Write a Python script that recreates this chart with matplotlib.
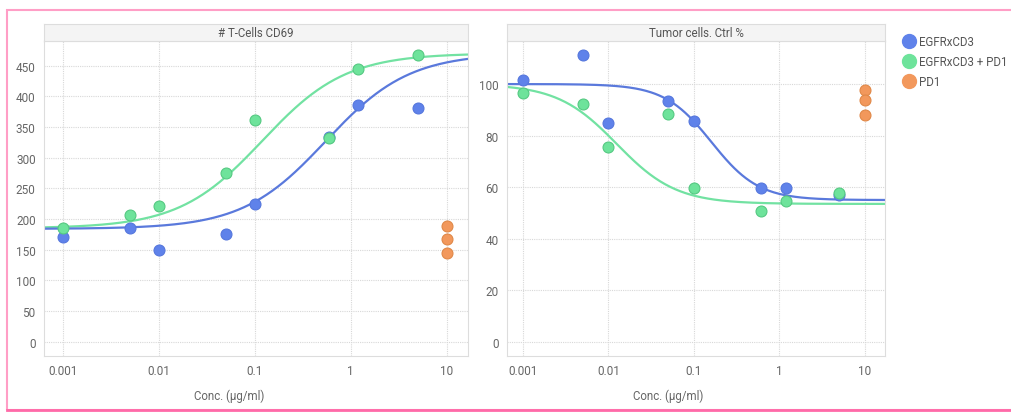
"""
Dose-response panels: T-cell CD69 count and tumor cell % of control.
Output: out.png
"""

import numpy as np
import matplotlib.pyplot as plt
from matplotlib.lines import Line2D
from matplotlib.patches import Rectangle

plt.rcParams["font.family"] = ["Roboto", "DejaVu Sans"]

W, H = 1011, 414

# concentrations (ug/ml)
conc = [0.001, 0.005, 0.01, 0.05, 0.1, 0.6, 1.2, 5]
pd1_conc = [10, 10, 10]

# left panel: # T-Cells CD69
cd69_egfr = [170, 185, 149, 175, 225, 333, 385, 381]
cd69_combo = [186, 206, 222, 275, 361, 332, 445, 467]
cd69_pd1 = [188, 167, 145]

# right panel: Tumor cells, Ctrl %
tumor_egfr = [101.7, 111.4, 84.9, 93.3, 85.5, 59.5, 59.8, 56.9]
tumor_combo = [96.4, 92.1, 75.7, 88.4, 59.8, 50.8, 54.5, 57.6]
tumor_pd1 = [97.5, 93.7, 87.9]

# 4PL fit parameters (low-dose level, high-dose level, ec50, hill)
cd69_fit_egfr = (184, 470, 0.55, 1.0)
cd69_fit_combo = (185, 470, 0.12, 1.0)
tumor_fit_egfr = (100, 55, 0.16, 1.575)
tumor_fit_combo = (100, 53.5, 0.0125, 1.25)

series_names = ["EGFRxCD3", "EGFRxCD3 + PD1", "PD1"]
BLUE, GREEN, ORANGE = "#5f82ea", "#6ee39b", "#f2985c"
BLUE_LINE, GREEN_LINE = "#5a79dc", "#72e2a2"
TEXT = "#666666"


def four_pl(x, low, high, ec50, hill):
    return low + (high - low) / (1 + (ec50 / x) ** hill)


def px_axes(fig, x0, y0, x1, y1, **kw):
    return fig.add_axes([x0 / W, (H - y1) / H, (x1 - x0) / W, (y1 - y0) / H], **kw)


def draw_panel(fig, box, title, xlim, ylim, yticks, data, fits):
    x0, y0, x1, y1 = box
    ax = px_axes(fig, x0, y0, x1, y1)
    strip = px_axes(fig, x0, y0 - 17, x1, y0)
    strip.set_facecolor("#f4f4f4")
    strip.set_xticks([])
    strip.set_yticks([])
    for s in strip.spines.values():
        s.set_color("#dddddd")
    strip.text(0.5, 0.5, title, ha="center", va="center", fontsize=8.3, color="#555555",
               transform=strip.transAxes)

    ax.set_xscale("log")
    ax.set_xlim(*xlim)
    ax.set_ylim(*ylim)
    ax.set_yticks(yticks)
    ax.set_xticks([0.001, 0.01, 0.1, 1, 10])
    ax.set_xticklabels(["0.001", "0.01", "0.1", "1", "10"])
    ax.minorticks_off()
    ax.tick_params(length=0, labelsize=8.5, colors=TEXT, pad=6)
    ax.grid(True, color="#d8d8d8", linestyle=(0, (1, 1)), linewidth=0.8)
    ax.set_axisbelow(True)
    for s in ax.spines.values():
        s.set_color("#dddddd")

    xs = np.logspace(np.log10(xlim[0]), np.log10(xlim[1]), 300)
    egfr, combo, pd1 = data
    ax.plot(xs, four_pl(xs, *fits[1]), color=GREEN_LINE, lw=1.6, zorder=2)
    ax.plot(xs, four_pl(xs, *fits[0]), color=BLUE_LINE, lw=1.6, zorder=2)
    ax.scatter(conc, egfr, s=62, color=BLUE, edgecolor="#5577dd", lw=0.8, zorder=3)
    ax.scatter(conc, combo, s=62, color=GREEN, edgecolor="#55c982", lw=0.8, zorder=4)
    ax.scatter(pd1_conc, pd1, s=62, color=ORANGE, edgecolor="#e08848", lw=0.8, zorder=3)
    return ax


fig = plt.figure(figsize=(W / 100, H / 100), dpi=100)

draw_panel(fig, (44, 42, 468, 357), "# T-Cells CD69",
           (10 ** -3.195, 10 ** 1.222), (-23, 490), range(0, 451, 50),
           (cd69_egfr, cd69_combo, cd69_pd1), (cd69_fit_egfr, cd69_fit_combo))
draw_panel(fig, (507, 42, 885, 357), "Tumor cells. Ctrl %",
           (10 ** -3.187, 10 ** 1.234), (-5.5, 116.7), range(0, 101, 20),
           (tumor_egfr, tumor_combo, tumor_pd1), (tumor_fit_egfr, tumor_fit_combo))

fig.text(229 / W, 1 - 396 / H, "Conc. (μg/ml)", ha="center", va="center", fontsize=8.3, color=TEXT)
fig.text(668 / W, 1 - 396 / H, "Conc. (μg/ml)", ha="center", va="center", fontsize=8.3, color=TEXT)

handles = [Line2D([], [], marker="o", ls="", ms=10, color=c, markeredgecolor=c)
           for c in (BLUE, GREEN, ORANGE)]
fig.legend(handles, series_names, loc="upper left", bbox_to_anchor=(896 / W, 1 - 30 / H),
           frameon=False, fontsize=8.3, labelcolor="#555555", handletextpad=0.3,
           labelspacing=0.62, handlelength=1.2, borderpad=0)

# pink frame around the card (open on the right)
fig.patches.append(Rectangle((7 / W, 1 - 411 / H), 1.2, 400 / H, transform=fig.transFigure,
                             fill=False, edgecolor="#ff9ec6", lw=1.5))
fig.add_artist(Line2D([7 / W, 1], [1 - 411 / H, 1 - 411 / H], transform=fig.transFigure,
                      color="#ff6aa8", lw=2))

fig.savefig("out.png", dpi=100)
